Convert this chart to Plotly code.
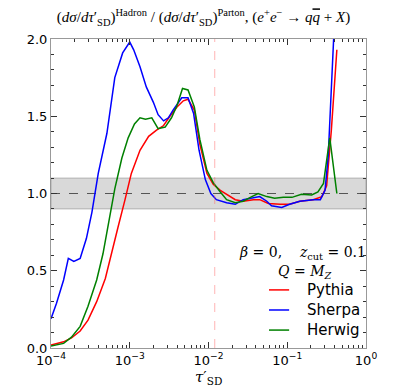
import numpy as np
import plotly.graph_objects as go

# log10(tau'_SD) positions and hadron/parton ratios
pythia_logtau = [-4.0, -3.84, -3.74, -3.63, -3.53, -3.42, -3.31, -3.23, -3.15, -3.06, -2.98,
                 -2.87, -2.76, -2.66, -2.57, -2.49, -2.40, -2.32, -2.26, -2.18, -2.11, -2.02,
                 -1.94, -1.85, -1.75, -1.66, -1.56, -1.43, -1.35, -1.24, -1.09, -0.97, -0.84,
                 -0.67, -0.56, -0.50, -0.44, -0.37]
pythia_ratio = [0.02, 0.04, 0.065, 0.11, 0.18, 0.30, 0.45, 0.62, 0.78, 0.96, 1.13,
                1.28, 1.37, 1.41, 1.44, 1.50, 1.56, 1.60, 1.61, 1.54, 1.32, 1.13,
                1.06, 1.02, 0.99, 0.96, 0.95, 0.96, 0.96, 0.935, 0.93, 0.93, 0.95,
                0.96, 0.98, 1.05, 1.41, 1.93]

sherpa_logtau = [-4.0, -3.93, -3.84, -3.78, -3.71, -3.63, -3.55, -3.48, -3.40, -3.29, -3.19,
                 -3.09, -3.0, -2.95, -2.87, -2.79, -2.70, -2.64, -2.57, -2.51, -2.45, -2.34,
                 -2.26, -2.19, -2.12, -2.04, -1.97, -1.90, -1.77, -1.66, -1.56, -1.43, -1.35,
                 -1.26, -1.20, -1.07, -0.97, -0.84, -0.67, -0.58, -0.52, -0.48, -0.44, -0.37]
sherpa_ratio = [0.19, 0.29, 0.44, 0.58, 0.56, 0.58, 0.71, 0.88, 1.13, 1.39, 1.75,
                1.91, 1.98, 1.93, 1.82, 1.69, 1.59, 1.51, 1.47, 1.49, 1.54, 1.62,
                1.62, 1.52, 1.28, 1.09, 1.00, 0.96, 0.94, 0.93, 0.96, 0.97, 0.98,
                0.95, 0.92, 0.91, 0.93, 0.95, 0.96, 0.96, 1.02, 1.24, 1.60, 2.45]

herwig_logtau = [-4.0, -3.84, -3.74, -3.63, -3.53, -3.42, -3.34, -3.25, -3.19, -3.10, -3.02,
                 -2.94, -2.87, -2.80, -2.72, -2.64, -2.55, -2.47, -2.40, -2.33, -2.26, -2.18,
                 -2.11, -2.02, -1.94, -1.85, -1.77, -1.66, -1.56, -1.45, -1.37, -1.26, -1.16,
                 -1.05, -0.94, -0.82, -0.69, -0.61, -0.54, -0.46, -0.37]
herwig_ratio = [0.013, 0.03, 0.07, 0.14, 0.27, 0.44, 0.61, 0.87, 1.03, 1.23, 1.36,
                1.45, 1.49, 1.48, 1.49, 1.42, 1.43, 1.49, 1.57, 1.68, 1.67, 1.56,
                1.35, 1.15, 1.07, 1.01, 0.96, 0.94, 0.95, 0.98, 1.00, 0.98, 0.97,
                0.975, 0.975, 0.995, 0.99, 1.01, 1.065, 1.36, 1.00]

tau_cut = 0.012          # dashed red marker
band_lo, band_hi = 0.9, 1.1
x_ticks = [1e-4, 1e-3, 1e-2, 1e-1, 1]
x_ticktext = ["10<sup>−4</sup>", "10<sup>−3</sup>", "10<sup>−2</sup>", "10<sup>−1</sup>", "10<sup>0</sup>"]
y_ticks = [0.0, 0.5, 1.0, 1.5, 2.0]

series = [("Pythia", pythia_logtau, pythia_ratio, "#ff0000"),
          ("Sherpa", sherpa_logtau, sherpa_ratio, "#0000ff"),
          ("Herwig", herwig_logtau, herwig_ratio, "#008000")]

x_minor = [m * 10.0 ** e for e in range(-4, 0) for m in range(2, 10)]

fig = go.Figure()

# +-10% band and unity line
fig.add_shape(type="rect", xref="paper", x0=0, x1=1, yref="y", y0=band_lo, y1=band_hi,
              fillcolor="rgba(160,160,160,0.4)", line=dict(color="rgba(130,130,130,0.5)", width=1),
              layer="below")
fig.add_shape(type="line", xref="paper", x0=0, x1=1, yref="y", y0=1, y1=1,
              line=dict(color="#333", width=0.8, dash="dash"), layer="below")

# the cut marker lives on the mirrored axes so they get drawn
fig.add_trace(go.Scatter(x=[tau_cut, tau_cut], y=[0, 2], mode="lines", showlegend=False,
                         xaxis="x2", yaxis="y2", hoverinfo="skip",
                         line=dict(color="rgba(255,90,90,0.45)", width=1, dash="dash")))

for name, lt, r, col in series:
    fig.add_trace(go.Scatter(x=np.power(10.0, lt), y=r, mode="lines", name=name,
                             showlegend=False, line=dict(color=col, width=1.5)))

# hand-placed legend, matplotlib style
for i, (name, lt, r, col) in enumerate(series):
    yy = 0.188 - i * 0.065
    fig.add_shape(type="line", xref="paper", yref="paper", x0=0.692, x1=0.756, y0=yy, y1=yy,
                  line=dict(color=col, width=1.5))
    fig.add_annotation(xref="paper", yref="paper", x=0.806, y=yy, xanchor="left",
                       yanchor="middle", showarrow=False, text=name,
                       font=dict(family="DejaVu Sans", size=15, color="black"))

tick_common = dict(ticks="inside", tickcolor="#333", showgrid=False, zeroline=False,
                   tickfont=dict(family="DejaVu Sans", size=13, color="black"))
x_common = dict(type="log", range=[-4, 0], tickvals=x_ticks, ticklen=6,
                minor=dict(ticks="inside", ticklen=3, tickvals=x_minor, tickcolor="#333"))
y_common = dict(range=[0, 2], tickvals=y_ticks, ticklen=6,
                minor=dict(ticks="inside", ticklen=3, dtick=0.1, tickcolor="#333"))

fig.update_layout(
    xaxis=dict(ticktext=x_ticktext, showline=True, mirror=True, linecolor="#999",
               linewidth=1, **x_common, **tick_common),
    yaxis=dict(ticktext=[f"{v:.1f}" for v in y_ticks], showline=True, mirror=True,
               linecolor="#999", linewidth=1, **y_common, **tick_common),
    xaxis2=dict(overlaying="x", side="top", anchor="y", showticklabels=False,
                showline=False, **x_common, **tick_common),
    yaxis2=dict(overlaying="y", side="right", anchor="x", showticklabels=False,
                showline=False, **y_common, **tick_common),
)

fig.add_annotation(xref="paper", yref="paper", x=0.5, y=-0.097, showarrow=False,
                   xanchor="center", yanchor="middle",
                   text="<i>τ</i>′<sub>SD</sub>",
                   font=dict(family="DejaVu Serif", size=15, color="black"))
fig.add_annotation(xref="paper", yref="paper", x=0.797, y=0.307, showarrow=False,
                   xanchor="center", yanchor="middle",
                   text="<i>β</i> = 0,    <i>z</i><sub>cut</sub> = 0.1",
                   font=dict(family="DejaVu Serif", size=14, color="black"))
fig.add_annotation(xref="paper", yref="paper", x=0.806, y=0.246, showarrow=False,
                   xanchor="center", yanchor="middle",
                   text="<i>Q</i> = <i>M</i><sub><i>Z</i></sub>",
                   font=dict(family="DejaVu Serif", size=14, color="black"))

fig.update_layout(
    width=407, height=389,
    margin=dict(l=51, r=41, t=39, b=41),
    paper_bgcolor="white", plot_bgcolor="white",
    showlegend=False,
    title=dict(text="(<i>dσ</i>/<i>dτ</i>′<sub>SD</sub>)<sup>Hadron</sup> / "
                    "(<i>dσ</i>/<i>dτ</i>′<sub>SD</sub>)<sup>Parton</sup>, "
                    "(<i>e</i><sup>+</sup><i>e</i><sup>−</sup> → <i>q</i>"
                    "<span style='text-decoration:overline'><i>q</i></span> + <i>X</i>)",
               x=0.5, xanchor="center", y=0.956, yanchor="middle",
               font=dict(family="Liberation Serif", size=15, color="black")),
)

fig.write_html("out.html", config={"displayModeBar": False},
               post_script="document.body.style.margin='0';")
